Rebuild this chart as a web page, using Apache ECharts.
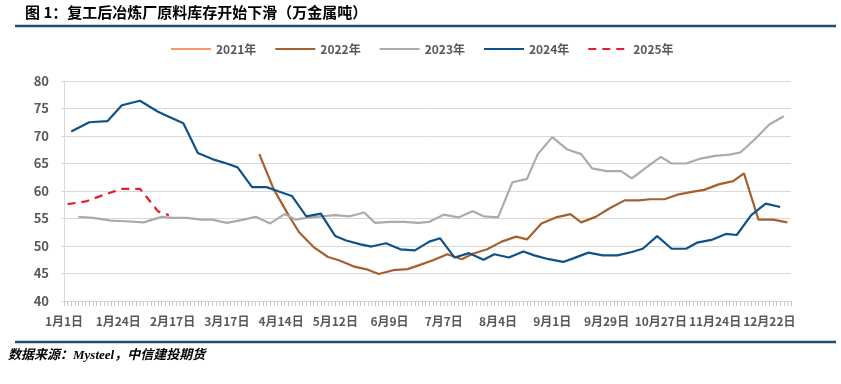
<!DOCTYPE html>
<html><head><meta charset="utf-8">
<script src="https://cdn.jsdelivr.net/npm/echarts@6/dist/echarts.min.js"></script>
<style>html,body{margin:0;padding:0;background:#fff}#c{width:841px;height:384px}</style>
</head><body><div id="c"></div>
<script>
// x-axis tick labels (shown every labelStep categories)
const tickLabels = ['1月1日','1月24日','2月17日','3月17日','4月14日','5月12日','6月9日','7月7日','8月4日','9月1日','9月29日','10月27日','11月24日','12月22日'];
const labelStep = 15;
const categoryCount = 202;

// Each series: category index (date position) and value (万金属吨)
const x2021 = [];
const v2021 = [];

const x2022 = [54,58,62,65,69,73,76,80,84,87,91,95,99,102,106,110,113,117,121,125,128,132,136,140,143,147,151,155,159,162,166,170,174,177,181,185,188,192,196,200];
const v2022 = [66.7,60.3,55.7,52.5,49.8,48.0,47.4,46.3,45.7,44.9,45.6,45.8,46.7,47.4,48.5,47.6,48.6,49.4,50.8,51.7,51.2,54.1,55.2,55.8,54.3,55.3,56.9,58.3,58.3,58.5,58.5,59.4,59.9,60.2,61.2,61.8,63.2,54.8,54.8,54.3];

const x2023 = [4,8,13,17,22,27,30,34,38,41,45,49,53,57,61,64,67,71,75,79,83,86,90,94,98,101,105,109,113,116,120,124,128,131,135,139,143,146,150,154,157,161,165,168,172,176,180,184,187,191,195,199];
const v2023 = [55.3,55.1,54.6,54.5,54.3,55.3,55.1,55.1,54.8,54.8,54.2,54.7,55.3,54.1,55.8,54.8,55.1,55.4,55.6,55.4,56.1,54.2,54.4,54.4,54.2,54.4,55.7,55.2,56.3,55.4,55.2,61.6,62.2,66.7,69.8,67.6,66.7,64.1,63.6,63.6,62.3,64.3,66.2,65.0,65.0,65.9,66.4,66.6,67.0,69.4,72.1,73.6];

const x2024 = [2,7,12,16,21,26,29,33,37,41,45,48,52,56,59,63,67,71,75,78,82,85,89,93,97,101,104,108,112,116,119,123,127,130,134,138,141,145,149,153,157,160,164,168,172,175,179,183,186,190,194,198];
const v2024 = [70.8,72.5,72.7,75.6,76.4,74.4,73.5,72.3,66.9,65.8,65.0,64.3,60.7,60.7,60.0,59.1,55.4,55.9,51.8,51.0,50.3,49.9,50.5,49.4,49.2,50.8,51.4,47.9,48.7,47.5,48.5,47.9,49.0,48.3,47.6,47.1,47.8,48.8,48.3,48.3,48.9,49.5,51.8,49.5,49.5,50.6,51.1,52.2,52.0,55.6,57.7,57.1];

const x2025 = [1,6,11,16,21,26,29];
const v2025 = [57.6,58.1,59.3,60.4,60.4,56.3,55.6];

const categories = Array.from({length: categoryCount}, (_, i) =>
  (i % labelStep === 0 && tickLabels[i / labelStep]) ? tickLabels[i / labelStep] : ('d' + i));

const zip = (xs, vs) => xs.map((x, i) => [x, vs[i]]);

const FONT = '"Noto Sans CJK SC", "Noto Sans", sans-serif';
const chart = echarts.init(document.getElementById('c'), null, {renderer: 'canvas'});

function mk(name, xs, vs, color, dash) {
  return {
    name, type: 'line', data: zip(xs, vs), symbol: 'none', smooth: false,
    connectNulls: true, animation: false,
    itemStyle: {color},
    lineStyle: {color, width: 2.2, type: dash ? [8, 6] : 'solid'}
  };
}

chart.setOption({
  animation: false,
  textStyle: {fontFamily: FONT},
  title: {
    text: '图 1：复工后冶炼厂原料库存开始下滑（万金属吨）',
    left: 25, top: 5, padding: 0,
    textStyle: {fontSize: 15, fontWeight: 'bold', color: '#000', fontFamily: FONT}
  },
  legend: {
    left: 170, top: 43, padding: 0,
    itemWidth: 40, itemHeight: 14, itemGap: 18,
    itemStyle: {color: 'rgba(0,0,0,0)', opacity: 0, borderWidth: 0},
    textStyle: {fontSize: 12, fontWeight: 'bold', color: '#595959', fontFamily: FONT},
    data: ['2021年','2022年','2023年','2024年','2025年']
  },
  grid: {left: 64, right: 50, top: 81, bottom: 83, containLabel: false},
  xAxis: {
    type: 'category', data: categories, boundaryGap: false,
    axisLine: {lineStyle: {color: '#D9D9D9', width: 1}},
    axisTick: {show: true, interval: 0, length: 5, lineStyle: {color: '#C8C8C8'}},
    axisLabel: {
      interval: (i) => i % labelStep === 0, margin: 14,
      fontSize: 12, fontWeight: 'bold', color: '#595959', fontFamily: FONT,
      formatter: (v) => v.startsWith('d') ? '' : v
    },
    splitLine: {show: false}
  },
  yAxis: {
    type: 'value', min: 40, max: 80, interval: 5,
    axisLine: {show: true, lineStyle: {color: '#D9D9D9'}},
    axisTick: {show: true, length: 3, lineStyle: {color: '#D9D9D9'}},
    axisLabel: {margin: 15, fontSize: 13, fontWeight: 'bold', color: '#595959', fontFamily: FONT},
    splitLine: {lineStyle: {color: '#D9D9D9', width: 1}}
  },
  graphic: [
    {type: 'line', shape: {x1: 15, y1: 26, x2: 836, y2: 26}, style: {stroke: '#1B4F7A', lineWidth: 2.5}},
    {type: 'line', shape: {x1: 15, y1: 342, x2: 836, y2: 342}, style: {stroke: '#1B4F7A', lineWidth: 2.5}},
    {type: 'text', left: 8, top: 349, style: {
      text: '数据来源：Mysteel，中信建投期货', fill: '#000',
      font: 'italic bold 13px "Liberation Serif", "Noto Sans CJK SC", serif'
    }}
  ],
  series: [
    mk('2021年', x2021, v2021, '#F79A62', false),
    mk('2022年', x2022, v2022, '#A4602E', false),
    mk('2023年', x2023, v2023, '#ABABAB', false),
    mk('2024年', x2024, v2024, '#0F5287', false),
    mk('2025年', x2025, v2025, '#E2202A', true)
  ]
});
</script>
</body></html>
